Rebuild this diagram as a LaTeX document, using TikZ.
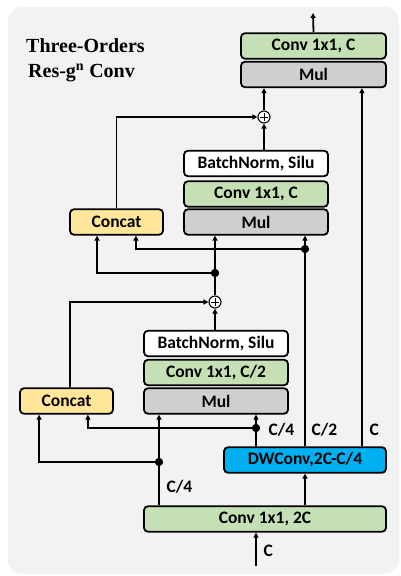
\documentclass[tikz,border=0pt]{standalone}
\usepackage{fontspec}
\setmainfont{Liberation Serif}
\setsansfont{Carlito}
\usetikzlibrary{arrows.meta}
\definecolor{bggray}{RGB}{242,242,242}
\definecolor{convgreen}{RGB}{197,224,180}
\definecolor{mulgray}{RGB}{208,206,206}
\definecolor{catyellow}{RGB}{255,230,153}
\definecolor{dwblue}{RGB}{0,176,240}
\begin{document}
\begin{tikzpicture}[x=1pt,y=-1pt]
            \tikzstyle{every node}=[font=\sffamily\bfseries\fontsize{17.5}{20}\selectfont, text=black]
            \tikzstyle{block}=[draw=black, line width=1.8pt, rounded corners=4pt, inner sep=0pt, minimum height=25.5pt]
            \tikzstyle{edge}=[black, line width=1.8pt, -{Triangle[length=5pt,width=5pt]}]
            \tikzstyle{dot}=[circle, fill=black, inner sep=0pt, minimum size=8pt]
            \tikzstyle{plus}=[circle, draw=black, fill=white, line width=1.1pt, inner sep=0pt, minimum size=12pt,
                path picture={\draw[line width=1pt] ([yshift=-2pt]path picture bounding box.north) -- ([yshift=2pt]path picture bounding box.south)
                    ([xshift=2pt]path picture bounding box.west) -- ([xshift=-2pt]path picture bounding box.east);}]
            \tikzstyle{title}=[font=\rmfamily\bfseries\fontsize{20}{24}\selectfont, anchor=west, inner sep=0pt]

            \useasboundingbox (0,0) rectangle (401,576);
            \fill[bggray, rounded corners=14pt] (8,7) rectangle (399,574);

            \node[title] (t1) at (26,46) {Three-Orders};
            \node[title] (t2) at (28,73) {Res-g\textsuperscript{n} Conv};

            \node[block, fill=convgreen, minimum width=145pt] (cout) at (313.5,46) {Conv 1x1, C};
            \node[block, fill=mulgray, minimum width=145pt] (mulc) at (313.5,74.5) {Mul};

            \node[block, fill=white, minimum width=144pt] (bnu) at (256,163.5) {BatchNorm, Silu};
            \node[block, fill=convgreen, minimum width=144pt] (convu) at (256,194) {Conv 1x1, C};
            \node[block, fill=mulgray, minimum width=144pt] (mulu) at (256,222) {Mul};
            \node[block, fill=catyellow, minimum width=93pt] (catu) at (116.5,222) {Concat};

            \node[block, fill=white, minimum width=144pt] (bnl) at (216,343.5) {BatchNorm, Silu};
            \node[block, fill=convgreen, minimum width=144pt] (convl) at (216,372.5) {Conv 1x1, C/2};
            \node[block, fill=mulgray, minimum width=144pt] (mull) at (216,401) {Mul};
            \node[block, fill=catyellow, minimum width=93pt] (catl) at (66.5,401) {Concat};

            \node[block, fill=dwblue, minimum width=162pt] (dw) at (305,460) {DWConv,2C-C/4};
            \node[block, fill=convgreen, minimum width=242pt] (conv2c) at (265,519) {Conv 1x1, 2C};

            \node[plus] (plusu) at (264,117) {};
            \node[plus] (plusl) at (215,302) {};

            \node[dot] (d1) at (215,273) {};
            \node[dot] (d2) at (305,249) {};
            \node[dot] (d3) at (159,462) {};
            \node[dot] (d4) at (256,428) {};

            \coordinate (in) at (256,566);
            \coordinate (out) at (313,13);
            \coordinate (cright) at ([xshift=-25pt]dw.north east);

            \draw[edge] (in) -- (in |- conv2c.south);
            \draw[edge] (conv2c.north -| d3) -- (mull.south -| d3);
            \draw[edge] (d3) -| ([xshift=20pt]catl.south west);
            \draw[edge] (conv2c.north -| d2) -- (dw.south -| d2);
            \draw[edge] (dw.north -| d4) -- (mull.south -| d4);
            \draw[edge] (d4) -| ([xshift=-26pt]catl.south east);
            \draw[edge] (dw.north -| d2) -- (mulu.south -| d2);
            \draw[edge] (d2) -| ([xshift=-28pt]catu.south east);
            \draw[edge] (cright) -- (cright |- mulc.south);

            \draw[edge] (bnl.north -| plusl) -- (plusl);
            \draw[edge] ([xshift=3.5pt]catl.north) |- (plusl);
            \draw[edge] (plusl) -- (mulu.south -| plusl);
            \draw[edge] (d1) -| ([xshift=28pt]catu.south west);

            \draw[edge] (bnu.north -| plusu) -- (plusu);
            \draw[edge] (catu.north) |- (plusu);
            \draw[edge] (plusu) -- (mulc.south -| plusu);
            \draw[edge] (cout.north |- out) ++(0,19) -- (out);

            \node[dot] at (d1) {};
            \node[dot] at (d2) {};
            \node[dot] at (d3) {};
            \node[dot] at (d4) {};

            \node[anchor=west] (lc4a) at (163,487) {C/4};
            \node[anchor=west] (lc4b) at (265,430) {C/4};
            \node[anchor=west] (lc2) at (308,430) {C/2};
            \node[anchor=west] (lc) at (366,430) {C};
            \node[anchor=west] (lin) at (260,551) {C};
\end{tikzpicture}
\end{document}
